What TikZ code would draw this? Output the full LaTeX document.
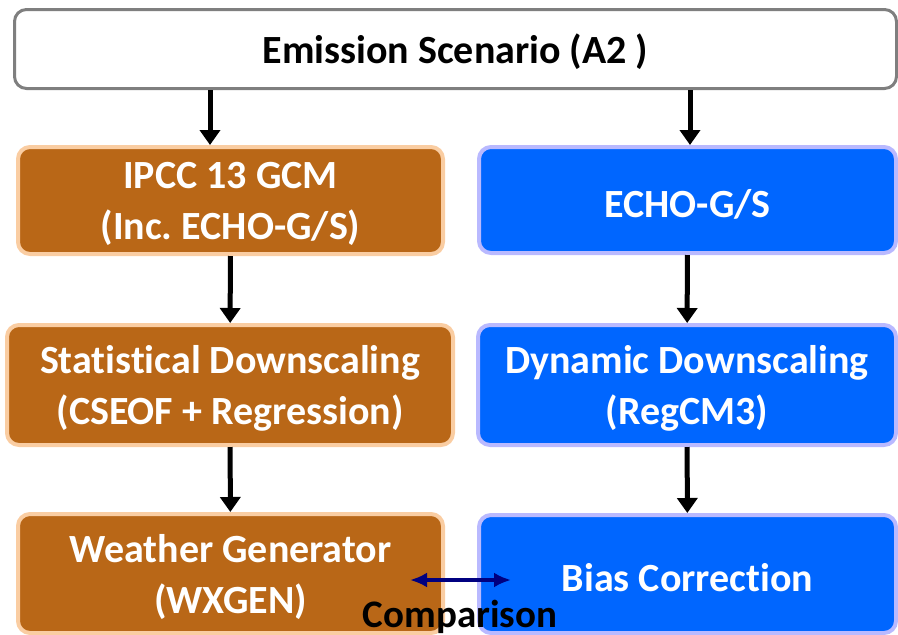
\documentclass[tikz,border=0pt]{standalone}
\usepackage{fontspec}
\setmainfont{Carlito}[Ligatures=NoCommon]
\usetikzlibrary{arrows.meta}

\definecolor{rust}{RGB}{185,103,23}
\definecolor{peach}{RGB}{250,205,162}
\definecolor{azure}{RGB}{0,102,255}
\definecolor{lilac}{RGB}{185,185,255}
\definecolor{navy}{RGB}{0,0,128}
\definecolor{frame}{RGB}{127,127,127}

\begin{document}
\begin{tikzpicture}[x=1pt,y=-1pt,
  box/.style={rectangle, rounded corners=12pt, line width=3pt, inner sep=0pt,
    align=center, font=\bfseries\fontsize{40}{51}\selectfont,
    execute at begin node={\rule{0pt}{36pt}}},
  twolines/.style={text depth=0pt},
  gcmbox/.style={box, line width=4pt, draw=peach, fill=rust, text=white},
  rcmbox/.style={box, line width=4pt, draw=lilac, fill=azure, text=white},
  flow/.style={-{Triangle[width=20pt,length=15pt]}, line width=5pt}]
\useasboundingbox (0,0) rectangle (898,635);
\clip (0,0) rectangle (898,635);

% scenario on top
\node [box, draw=frame, fill=white, minimum width=882pt, minimum height=79pt] (scen) at (455.5,49) {Emission Scenario (A2 )};

% statistical branch
\node [gcmbox, twolines, minimum width=425pt, minimum height=107pt] (gcm) at (230.5,200.5) {IPCC 13 GCM\\(Inc.\ ECHO-G/S)};
\node [gcmbox, twolines, minimum width=446pt, minimum height=120pt] (sds) at (230,385) {Statistical Downscaling\\(CSEOF + Regression)};
\node [gcmbox, twolines, minimum width=425pt, minimum height=119pt] (wxg) at (230.5,573.5) {Weather Generator\\(WXGEN)};

% dynamic branch
\node [rcmbox, minimum width=417pt, minimum height=106pt] (echo) at (687.5,200) {ECHO-G/S};
\node [rcmbox, twolines, minimum width=418pt, minimum height=120pt] (dds) at (687,385) {Dynamic Downscaling\\(RegCM3)};
\node [rcmbox, minimum width=417pt, minimum height=118pt] (bias) at (687.5,574) {Bias Correction};

% arrows
\coordinate (lx) at (210,0);
\coordinate (rx) at (690,0);
\draw [flow] (scen.south -| lx) -- (gcm.north -| lx);
\draw [flow] (scen.south -| rx) -- (echo.north -| rx);
\draw [flow] (gcm) -- (sds);
\draw [flow] (sds) -- (wxg);
\draw [flow] (echo) -- (dds);
\draw [flow] (dds) -- (bias);

% comparison
\coordinate (cl) at (410,580);
\coordinate (cr) at (511,580);
\draw [{Latex[width=15pt,length=17pt]}-{Latex[width=15pt,length=17pt]}, line width=4.5pt, navy] (cl) -- (cr);
\node [font=\bfseries\fontsize{39}{47}\selectfont, inner sep=0pt, anchor=base] (cmp) at (460,627) {Comparison};
\end{tikzpicture}
\end{document}
